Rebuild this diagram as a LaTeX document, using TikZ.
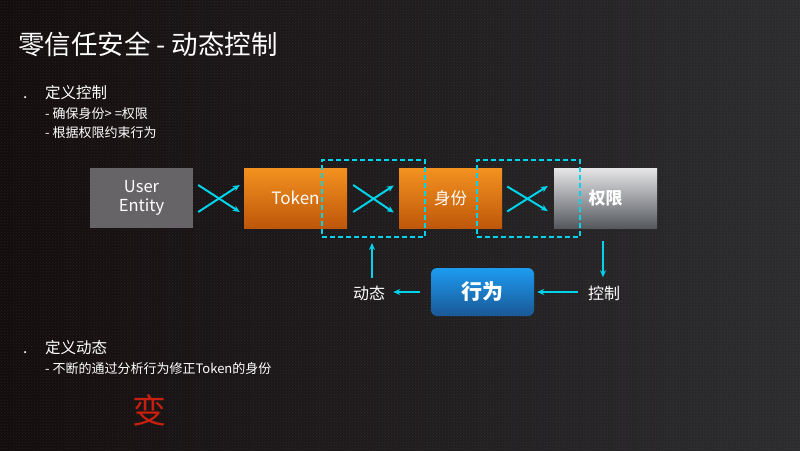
\documentclass[tikz,border=0pt]{standalone}
\usepackage{fontspec}
\newfontfamily\cjk{Noto Sans CJK SC}
\usetikzlibrary{arrows.meta,calc,patterns}
\definecolor{cy}{RGB}{0,212,236}
\definecolor{bgl}{RGB}{20,13,14}
\definecolor{bgr}{RGB}{44,44,46}
\definecolor{ugray}{RGB}{102,100,102}
\definecolor{orT}{RGB}{243,146,32}
\definecolor{orB}{RGB}{190,86,10}
\definecolor{siT}{RGB}{230,230,232}
\definecolor{siB}{RGB}{85,89,94}
\definecolor{blT}{RGB}{28,155,240}
\definecolor{blB}{RGB}{27,88,150}
\definecolor{redc}{RGB}{200,32,14}
\begin{document}
\begin{tikzpicture}[x=1pt,y=-1pt,
  txt/.style={text=white,inner sep=0pt,font=\cjk},
  box/.style={minimum width=103pt,minimum height=60pt,inner sep=0pt,text=white,align=center},
  arr/.style={cy,line width=2pt,-{Stealth[length=7pt,width=6pt]}},
  dbox/.style={draw=cy,line width=2pt,dash pattern=on 5pt off 3pt,minimum width=103pt,minimum height=77pt,inner sep=0pt}]
\useasboundingbox (0,0) rectangle (800,450);
\fill[left color=bgl,right color=bgr] (0,0) rectangle (800,450);
\fill[pattern=crosshatch dots,pattern color=white,opacity=0.07] (0,0) rectangle (800,450);
% title and bullets
\node[txt,anchor=base west,font=\cjk\fontsize{26.5}{30}\selectfont] (title) at (18,54) {零信任安全 - 动态控制};
\node[txt,anchor=base west,font=\cjk\fontsize{15.5}{18}\selectfont] (b1) at (23,98) {.};
\node[txt,anchor=base west,font=\cjk\fontsize{15.5}{18}\selectfont] (h1) at (45,98) {定义控制};
\node[txt,anchor=base west,font=\cjk\fontsize{13}{15}\selectfont] (s1) at (45,118) {- 确保身份> =权限};
\node[txt,anchor=base west,font=\cjk\fontsize{13}{15}\selectfont] (s2) at (45,137) {- 根据权限约束行为};
\node[txt,anchor=base west,font=\cjk\fontsize{15.5}{18}\selectfont] (b2) at (23,353) {.};
\node[txt,anchor=base west,font=\cjk\fontsize{15.5}{18}\selectfont] (h2) at (45,353) {定义动态};
\node[txt,anchor=base west,font=\cjk\fontsize{13}{15}\selectfont] (s3) at (45,373) {- 不断的通过分析行为修正Token的身份};
\node[inner sep=0pt,text=redc,font=\cjk\fontsize{34}{38}\selectfont] (bian) at (149.5,410) {变};
% boxes
\node[box,fill=ugray,font=\cjk\fontsize{16.5}{19}\selectfont] (ue) at (141.5,198) {User\\Entity};
\node[box,top color=orT,bottom color=orB,font=\cjk\fontsize{17}{20}\selectfont] (tok) at (295.5,198) {Token};
\node[box,top color=orT,bottom color=orB,font=\cjk\fontsize{16.5}{20}\selectfont] (sf) at (450.5,198.5) {身份};
\node[box,top color=siT,bottom color=siB,font=\cjk\bfseries\fontsize{17}{20}\selectfont] (qx) at (605.5,198) {权限};
\node[dbox] (d1) at (373.5,198.5) {};
\node[dbox] (d2) at (528,198.5) {};
\node[box,minimum height=48pt,rounded corners=6pt,top color=blT,bottom color=blB,font=\cjk\bfseries\fontsize{21}{24}\selectfont] (xw) at (482.5,292) {行为};
\node[txt,font=\cjk\fontsize{16}{19}\selectfont] (dt) at (369,293) {动态};
\node[txt,font=\cjk\fontsize{16}{19}\selectfont] (kz) at (604,293) {控制};
% cross arrows
\draw[arr] ($(ue.east)+(5,-13)$) -- ($(tok.west)+(-4,14)$);
\draw[arr] ($(ue.east)+(5,14)$) -- ($(tok.west)+(-4,-13)$);
\draw[arr] ($(tok.east)+(6,-13)$) -- ($(sf.west)+(-5,14)$);
\draw[arr] ($(tok.east)+(6,14)$) -- ($(sf.west)+(-5,-13)$);
\draw[arr] ($(sf.east)+(5,-12)$) -- ($(qx.west)+(-6,13)$);
\draw[arr] ($(sf.east)+(5,13)$) -- ($(qx.west)+(-6,-12)$);
% lower arrows
\draw[arr] ($(d1.south)+(-1.5,40)$) -- ($(d1.south)+(-1.5,5)$);
\draw[arr] ($(qx.south)+(-2.5,13)$) -- ($(qx.south)+(-2.5,49)$);
\draw[arr] ($(xw.west)+(-11,0)$) -- ($(xw.west -| dt.east)+(8,0)$);
\draw[arr] ($(xw.east -| kz.west)+(-10,0)$) -- ($(xw.east)+(3,0)$);
\end{tikzpicture}
\end{document}
